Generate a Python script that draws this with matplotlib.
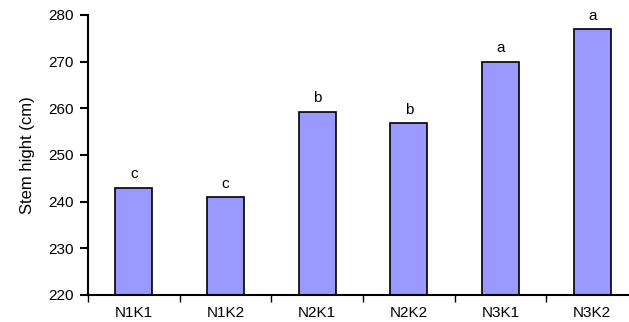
import matplotlib.pyplot as plt
import numpy as np

plt.rcParams['font.family'] = ['Liberation Sans', 'DejaVu Sans']

treatments = ['N1K1', 'N1K2', 'N2K1', 'N2K2', 'N3K1', 'N3K2']
stem_height = [243.0, 241.0, 259.3, 256.8, 270.0, 277.0]
groups = ['c', 'c', 'b', 'b', 'a', 'a']

fig = plt.figure(figsize=(6.29, 3.22), dpi=100)
ax = fig.add_axes([88 / 629, 27 / 322, 550 / 629, 280 / 322])

x = np.arange(len(treatments))
ax.bar(x, np.array(stem_height) - 220, bottom=220, width=0.4,
       color='#9999ff', edgecolor='black', linewidth=1.2)

for xi, h, g in zip(x, stem_height, groups):
    ax.annotate(g, (xi, h), xytext=(0, 4.5), textcoords='offset points',
                ha='center', va='bottom', fontsize=11)

ax.set_xlim(-0.5, len(treatments) - 0.5)
ax.set_ylim(220, 280)
ax.set_yticks(range(220, 281, 10))
ax.set_xticks(x)
ax.set_xticklabels(treatments)
ax.set_xticks(np.arange(-0.5, len(treatments)), minor=True)
ax.tick_params(axis='x', which='major', length=0, pad=8, labelsize=11)
ax.tick_params(axis='x', which='minor', length=5, width=1.0, direction='out')
ax.tick_params(axis='y', length=6, width=1.5, pad=4, labelsize=11)

ax.set_ylabel('Stem hight (cm)', fontsize=12, labelpad=10)

for s in ['top', 'right']:
    ax.spines[s].set_visible(False)
for s in ['left', 'bottom']:
    ax.spines[s].set_linewidth(1.5)

fig.savefig('out.png', dpi=100)
